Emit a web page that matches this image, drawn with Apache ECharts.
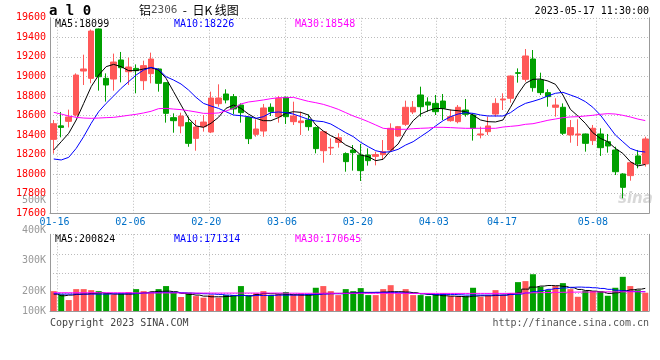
<!DOCTYPE html>
<html><head><meta charset="utf-8">
<script src="https://cdn.jsdelivr.net/npm/echarts@6/dist/echarts.min.js"></script>
<style>html,body{margin:0;padding:0;background:#fff}#c{width:660px;height:360px}</style>
</head><body><div id="c"></div>
<script>
const dates = ['01-13','01-16','01-17','01-18','01-19','01-20','01-30','01-31',
'02-01','02-02','02-03','02-06','02-07','02-08','02-09','02-10','02-13','02-14','02-15','02-16','02-17',
'02-20','02-21','02-22','02-23','02-24','02-27','02-28',
'03-01','03-02','03-03','03-06','03-07','03-08','03-09','03-10','03-13','03-14','03-15','03-16','03-17',
'03-20','03-21','03-22','03-23','03-24','03-27','03-28','03-29','03-30','03-31',
'04-03','04-04','04-06','04-07','04-10','04-11','04-12','04-13','04-14',
'04-17','04-18','04-19','04-20','04-21','04-24','04-25','04-26','04-27','04-28',
'05-04','05-05','05-08','05-09','05-10','05-11','05-12','05-15','05-16','05-17'];
const labelDates = ['01-16','02-06','02-20','03-06','03-20','04-03','04-17','05-08'];

const opens = [18356,18494,18540,18605,19055,18980,19485,18980,18973,19168,19048,19082,18956,19028,19076,18936,18578,18493,18527,18366,
18486,18431,18721,18820,18793,18707,18581,18407,18441,18684,18588,18786,18537,18527,18554,18476,18240,18268,18325,18210,
18247,18196,18196,18182,18199,18247,18390,18510,18636,18810,18738,18724,18748,18547,18537,18656,18605,18401,18435,18615,
18759,18776,19038,18970,19178,18963,18834,18684,18684,18401,18401,18411,18343,18411,18332,18247,18002,17985,18186,18104];
const closes = [18516,18478,18585,19014,19076,19464,18997,18912,19147,19089,19096,19059,19110,19178,18929,18622,18547,18595,18315,18482,
18533,18779,18779,18759,18667,18629,18363,18462,18677,18639,18776,18588,18595,18544,18486,18261,18435,18274,18373,18128,
18220,18036,18138,18200,18230,18469,18486,18684,18684,18690,18707,18639,18673,18588,18684,18612,18469,18411,18493,18724,
18769,19004,19031,19209,18885,18834,18793,18707,18418,18476,18411,18315,18469,18271,18288,18025,17865,18117,18104,18360];
const lows = [18210,18377,18478,18590,18912,18930,18854,18742,18854,18939,18912,18827,18861,18929,18844,18527,18424,18418,18280,18240,
18435,18420,18690,18724,18612,18527,18308,18383,18383,18595,18527,18513,18503,18401,18445,18213,18117,18196,18271,18025,
18036,17930,18087,18090,18145,18230,18380,18493,18615,18588,18639,18605,18554,18537,18520,18588,18343,18366,18401,18588,
18656,18731,18936,18946,18844,18810,18690,18588,18401,18322,18288,18230,18298,18186,18220,17991,17753,17933,18060,18077];
const highs = [18554,18636,18660,19031,19222,19480,19490,19031,19233,19250,19192,19123,19161,19243,19082,18940,18622,18629,18588,18554,
18605,18844,18919,18868,18820,18724,18588,18561,18718,18724,18800,18793,18741,18639,18612,18486,18440,18366,18418,18223,
18298,18309,18264,18230,18349,18520,18493,18752,18748,18895,18786,18810,18820,18663,18707,18769,18622,18486,18588,18776,
18827,19010,19082,19280,19270,19038,18868,18776,18724,18554,18561,18415,18503,18469,18411,18281,18010,18128,18247,18383];

const ma5 = [18247,18332,18418,18554,18724,18895,19014,19100,19123,19100,19059,19059,19076,19089,19065,18980,18844,18707,18571,18493,
18479,18520,18581,18673,18707,18673,18615,18571,18547,18547,18578,18622,18639,18632,18605,18503,18441,18394,18356,18298,
18264,18196,18179,18138,18152,18240,18309,18441,18547,18615,18649,18673,18670,18656,18649,18639,18605,18554,18537,18534,
18554,18684,18820,18929,18970,18973,18953,18919,18810,18663,18595,18520,18424,18366,18332,18264,18213,18128,18084,18099];
const ma10 = [18155,18145,18172,18264,18384,18520,18639,18724,18800,18878,18946,19014,19065,19093,19072,18997,18963,18922,18861,18786,
18724,18697,18673,18639,18605,18598,18588,18571,18588,18629,18636,18629,18615,18588,18561,18544,18537,18513,18469,18424,
18384,18326,18281,18240,18223,18230,18254,18298,18332,18384,18435,18493,18547,18588,18615,18629,18622,18605,18595,18595,
18595,18629,18684,18724,18745,18769,18800,18827,18837,18810,18782,18742,18684,18605,18503,18401,18332,18264,18236,18226];
const ma30 = [18632,18615,18595,18581,18574,18571,18574,18578,18581,18591,18602,18612,18626,18643,18670,18673,18666,18660,18649,18636,
18622,18622,18626,18646,18673,18718,18738,18748,18759,18772,18782,18782,18786,18765,18745,18731,18714,18690,18663,18629,
18595,18568,18537,18503,18469,18462,18459,18459,18465,18469,18472,18479,18479,18476,18472,18469,18469,18469,18469,18469,
18482,18489,18496,18510,18516,18533,18551,18564,18578,18585,18588,18595,18602,18612,18619,18615,18602,18585,18564,18548];

const volumes = [176,147,97,194,194,185,176,156,147,156,168,194,176,168,194,221,165,124,162,132,
118,141,118,141,141,221,135,156,176,141,150,168,147,156,147,206,221,176,141,194,
176,203,141,141,194,229,156,194,141,141,132,150,156,132,126,132,206,126,135,185,
141,159,256,265,326,215,185,221,247,194,126,179,176,176,135,206,303,221,185,162];
const volMa5 = [150,135,141,147,150,156,162,156,150,150,150,156,162,171,174,176,171,156,147,141,
132,126,126,129,135,138,135,147,156,153,150,147,144,141,141,150,156,156,156,159,
162,165,165,165,168,171,171,168,162,153,147,141,135,132,129,126,132,135,135,138,
141,150,162,194,212,221,226,224,218,206,191,182,176,168,156,162,179,188,194,200.8];
const volMa10 = [153,150,150,150,150,150,150,150,153,153,153,156,159,162,165,165,165,162,159,156,
153,150,147,141,138,138,135,138,138,138,141,141,141,144,147,147,150,153,153,156,
159,162,162,165,165,165,162,159,156,153,150,147,147,147,144,141,141,141,141,141,
141,147,150,160,172,182,192,200,205,210,212,210,206,200,192,184,178,174,172,171.3];
const volMa30 = [162,162,162,162,162,162,162,162,162,162,162,160,160,160,160,160,160,159,159,159,
159,159,159,159,159,159,159,159,159,159,159,158,158,157,157,157,157,157,157,157,
157,157,157,157,157,157,157,156,156,156,156,156,156,156,156,156,156,156,156,156,
156,157,158,160,162,163,164,165,166,167,168,168,169,169,170,170,170,170.5,170.6,170.6];

const priceLegend = ['MA5:18099','MA10:18226','MA30:18548'];
const volLegend = ['MA5:200824','MA10:171314','MA30:170645'];
const volTickLabels = ['500K','400K','300K','200K','100K'];

const RED = '#ff5858', GREEN = '#00a000', GRID = '#bbbbbb', AXIS = '#999999';
const MONO = '"DejaVu Sans Mono", "Liberation Mono", monospace';

const candleData = dates.map((d, i) => [opens[i], closes[i], lows[i], highs[i]]);
const volData = dates.map((d, i) => ({
  value: volumes[i] * 1000,
  itemStyle: { color: closes[i] >= opens[i] ? RED : GREEN }
}));
const isLabel = (idx, val) => labelDates.indexOf(val) >= 0;
const dotted = { show: true, interval: isLabel, lineStyle: { color: GRID, type: [1, 2], width: 1 } };

const chart = echarts.init(document.getElementById('c'), null, { renderer: 'canvas' });

const gridsY = [17.75, 234.3], gridsH = [195.5, 76.7];
const volPos = [200, 230.5, 260.5, 291, 311];
const graphics = [
  { type: 'text', left: 49, top: 4, style: { text: 'a l 0', font: 'bold 14px ' + MONO, fill: '#000' } },
  { type: 'text', left: 139, top: 4, style: { text: '{a|铝}{b|2306}{a|  -  日K 线图}', rich: {
      a: { font: '12px "Noto Sans CJK SC"', fill: '#000' },
      b: { font: '11px ' + MONO, fill: '#555' } } } },
  { type: 'text', right: 11, top: 6, style: { text: '2023-05-17 11:30:00', font: '10px ' + MONO, fill: '#000' } },
  { type: 'text', left: 55, top: 19, style: { text: priceLegend[0], font: '10px ' + MONO, fill: '#000' } },
  { type: 'text', left: 174, top: 19, style: { text: priceLegend[1], font: '10px ' + MONO, fill: '#0000ff' } },
  { type: 'text', left: 295, top: 19, style: { text: priceLegend[2], font: '10px ' + MONO, fill: '#ff00ff' } },
  { type: 'text', left: 55, top: 234, style: { text: volLegend[0], font: '10px ' + MONO, fill: '#000' } },
  { type: 'text', left: 174, top: 234, style: { text: volLegend[1], font: '10px ' + MONO, fill: '#0000ff' } },
  { type: 'text', left: 295, top: 234, style: { text: volLegend[2], font: '10px ' + MONO, fill: '#ff00ff' } },
  { type: 'text', left: 50, top: 318, style: { text: 'Copyright 2023 SINA.COM', font: '10px ' + MONO, fill: '#444' } },
  { type: 'text', right: 11, top: 318, style: { text: 'http://finance.sina.com.cn', font: '10px ' + MONO, fill: '#555' } },
  { type: 'text', left: 618, top: 192, style: { text: 'sina', font: 'italic bold 15px "DejaVu Sans"', fill: '#d8d8d8' } }
];
volTickLabels.forEach((t, i) => {
  graphics.push({ type: 'text', x: 46, y: volPos[i], style: { text: t, font: '10px ' + MONO, fill: '#999', align: 'right', verticalAlign: 'middle' } });
});

const option = {
  animation: false,
  backgroundColor: '#fff',
  grid: [
    { left: 50, top: gridsY[0], width: 599, height: gridsH[0] },
    { left: 50, top: gridsY[1], width: 599, height: gridsH[1] }
  ],
  xAxis: [
    { type: 'category', gridIndex: 0, data: dates, boundaryGap: true,
      axisLine: { show: true, lineStyle: { color: AXIS } }, axisTick: { show: false }, axisLabel: { show: false }, splitLine: { show: false } },
    { type: 'category', gridIndex: 0, data: dates, boundaryGap: false, position: 'bottom',
      axisLine: { show: false }, axisTick: { show: false },
      axisLabel: { show: true, interval: isLabel, color: '#0070c8', fontFamily: MONO, fontSize: 10, margin: 4, padding: [0, 6, 0, 0] },
      splitLine: dotted },
    { type: 'category', gridIndex: 1, data: dates, boundaryGap: true,
      axisLine: { show: true, lineStyle: { color: AXIS } }, axisTick: { show: false }, axisLabel: { show: false }, splitLine: { show: false } },
    { type: 'category', gridIndex: 1, data: dates, boundaryGap: false,
      axisLine: { show: false }, axisTick: { show: false }, axisLabel: { show: false }, splitLine: dotted }
  ],
  yAxis: [
    { type: 'value', gridIndex: 0, min: 17600, max: 19600, interval: 200, position: 'left',
      axisLine: { show: true, lineStyle: { color: AXIS } }, axisTick: { show: false },
      axisLabel: { color: '#ff0000', fontFamily: MONO, fontSize: 10, margin: 4, formatter: v => String(v) },
      splitLine: { show: true, lineStyle: { color: GRID, type: [1, 2] } } },
    { type: 'value', gridIndex: 0, min: 17600, max: 19600, position: 'right',
      axisLine: { show: true, lineStyle: { color: AXIS } }, axisTick: { show: false }, axisLabel: { show: false }, splitLine: { show: false } },
    { type: 'value', gridIndex: 1, min: 0, max: 680000, position: 'left',
      axisLine: { show: true, lineStyle: { color: AXIS } }, axisTick: { show: false }, axisLabel: { show: false }, splitLine: { show: false } },
    { type: 'value', gridIndex: 1, min: 0, max: 3.913, interval: 1, inverse: true, position: 'right',
      axisLine: { show: true, lineStyle: { color: AXIS } }, axisTick: { show: false }, axisLabel: { show: false },
      splitLine: { show: true, lineStyle: { color: GRID, type: [1, 2] } } }
  ],
  series: [
    { type: 'candlestick', xAxisIndex: 0, yAxisIndex: 0, data: candleData, barWidth: 6,
      itemStyle: { color: RED, color0: GREEN, borderColor: RED, borderColor0: GREEN, borderWidth: 1 } },
    { type: 'line', xAxisIndex: 0, yAxisIndex: 0, data: ma5, symbol: 'none', lineStyle: { color: '#000', width: 1 } },
    { type: 'line', xAxisIndex: 0, yAxisIndex: 0, data: ma10, symbol: 'none', lineStyle: { color: '#0000ff', width: 1 } },
    { type: 'line', xAxisIndex: 0, yAxisIndex: 0, data: ma30, symbol: 'none', lineStyle: { color: '#ff00ff', width: 1 } },
    { type: 'bar', xAxisIndex: 2, yAxisIndex: 2, data: volData, barWidth: 6 },
    { type: 'line', xAxisIndex: 2, yAxisIndex: 2, data: volMa5.map(v => v * 1000), symbol: 'none', step: 'middle', lineStyle: { color: '#000', width: 1 } },
    { type: 'line', xAxisIndex: 2, yAxisIndex: 2, data: volMa10.map(v => v * 1000), symbol: 'none', step: 'middle', lineStyle: { color: '#0000ff', width: 1 } },
    { type: 'line', xAxisIndex: 2, yAxisIndex: 2, data: volMa30.map(v => v * 1000), symbol: 'none', step: 'middle', lineStyle: { color: '#ff00ff', width: 1 } }
  ],
  graphic: graphics
};
chart.setOption(option);
</script></body></html>
